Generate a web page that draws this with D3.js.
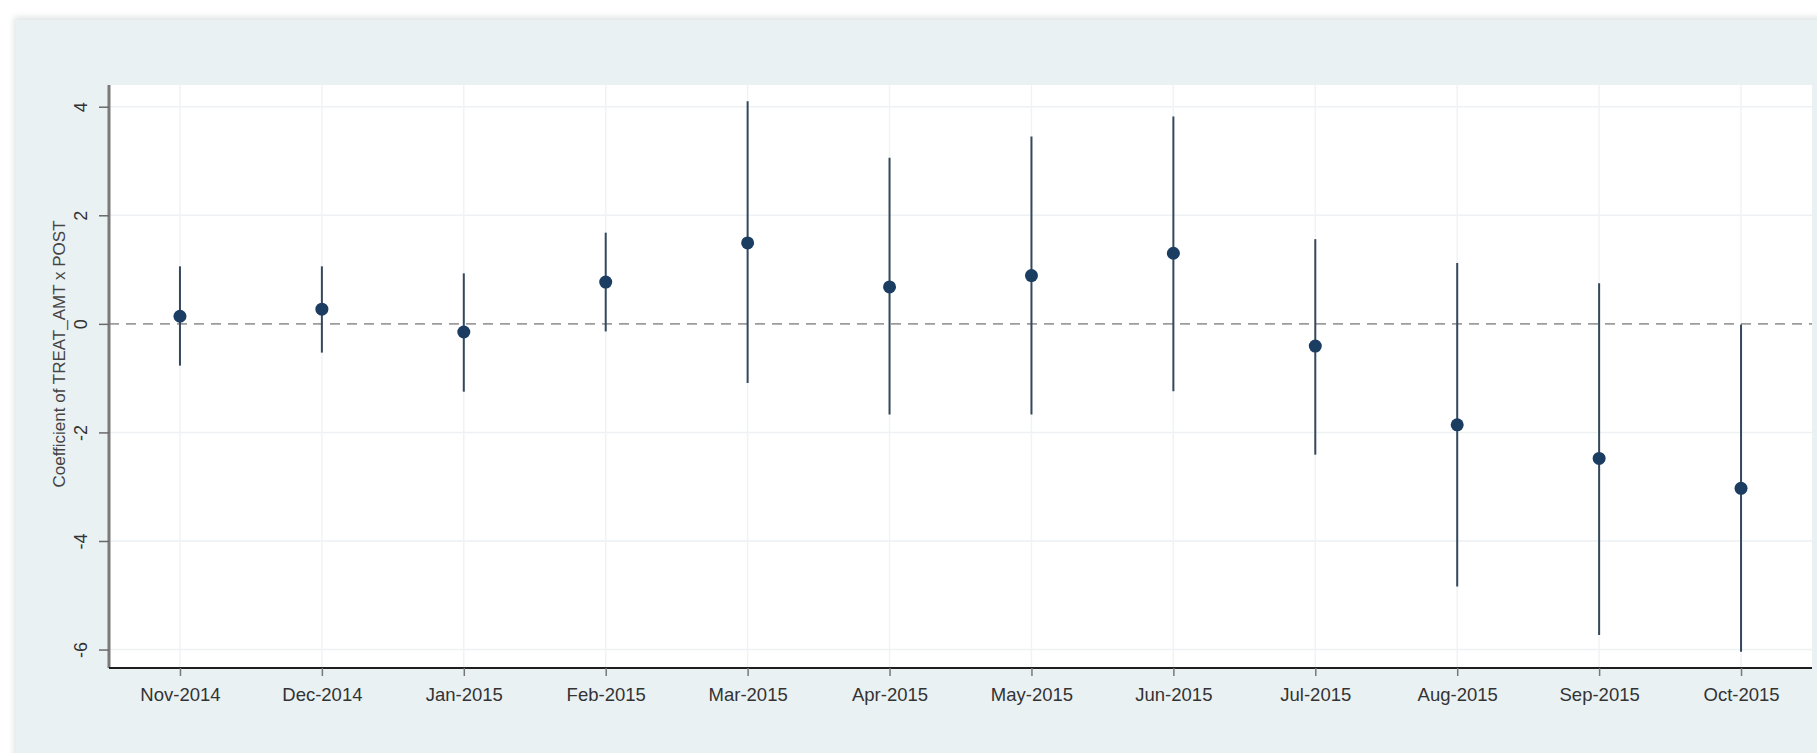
<!DOCTYPE html>
<html>
<head>
<meta charset="utf-8">
<script src="https://cdn.jsdelivr.net/npm/d3@7"></script>
<style>
  html, body { margin: 0; padding: 0; background: #ffffff; }
  svg { display: block; font-family: "Liberation Sans", Arial, sans-serif; }
</style>
</head>
<body>
<svg id="chart" width="1817" height="753"></svg>
<script>
// Monthly event-study coefficients with 95% confidence intervals
const months = ["Nov-2014", "Dec-2014", "Jan-2015", "Feb-2015", "Mar-2015", "Apr-2015",
                "May-2015", "Jun-2015", "Jul-2015", "Aug-2015", "Sep-2015", "Oct-2015"];
const coef   = [0.14, 0.27, -0.15, 0.77, 1.49, 0.68, 0.89, 1.30, -0.41, -1.86, -2.48, -3.03];
const ciLow  = [-0.77, -0.53, -1.25, -0.14, -1.09, -1.67, -1.67, -1.24, -2.41, -4.84, -5.73, -6.04];
const ciHigh = [1.06, 1.06, 0.93, 1.68, 4.10, 3.06, 3.45, 3.82, 1.56, 1.12, 0.75, -0.01];
const yTicks = [-6, -4, -2, 0, 2, 4];
const yTitle = "Coefficient of TREAT_AMT x POST";

const rows = months.map((m, i) => ({ month: m, b: coef[i], lo: ciLow[i], hi: ciHigh[i] }));

const svg = d3.select("#chart");
const W = 1817, H = 753;
const plot = { left: 109, right: 1812, top: 85, bottom: 668 };

// soft drop shadow for the graph region
const defs = svg.append("defs");
const f = defs.append("filter").attr("id", "soft").attr("x", "-5%").attr("y", "-5%")
  .attr("width", "110%").attr("height", "110%");
f.append("feGaussianBlur").attr("stdDeviation", 3);

// outer graph region
svg.append("rect").attr("x", 14).attr("y", 17).attr("width", W).attr("height", H)
  .attr("fill", "#dfe3e4").attr("filter", "url(#soft)");
svg.append("rect").attr("x", 16).attr("y", 20).attr("width", W - 16).attr("height", H - 20)
  .attr("fill", "#eaf1f3");

// plot region
svg.append("rect").attr("x", plot.left).attr("y", plot.top)
  .attr("width", plot.right - plot.left).attr("height", plot.bottom - plot.top)
  .attr("fill", "#ffffff");

const x = d3.scalePoint().domain(months).range([plot.left, plot.right]).padding(0.5);
const y = d3.scaleLinear().domain([-6.34, 4.40]).range([plot.bottom, plot.top]);

// grid lines
const grid = svg.append("g");
grid.selectAll("line.h").data(yTicks.filter(t => t !== 0)).join("line")
  .attr("x1", plot.left).attr("x2", plot.right)
  .attr("y1", d => y(d)).attr("y2", d => y(d))
  .attr("stroke", "#edf1f4").attr("stroke-width", 1.5);
grid.selectAll("line.v").data(months).join("line")
  .attr("x1", d => x(d)).attr("x2", d => x(d))
  .attr("y1", plot.top).attr("y2", plot.bottom)
  .attr("stroke", "#f0f3f5").attr("stroke-width", 1.5);

// zero reference line
svg.append("line")
  .attr("x1", plot.left).attr("x2", plot.right)
  .attr("y1", y(0)).attr("y2", y(0))
  .attr("stroke", "#9c9c9c").attr("stroke-width", 1.6)
  .attr("stroke-dasharray", "10,7");

// confidence interval spikes
svg.append("g").selectAll("line").data(rows).join("line")
  .attr("x1", d => x(d.month)).attr("x2", d => x(d.month))
  .attr("y1", d => y(d.lo)).attr("y2", d => y(d.hi))
  .attr("stroke", "#34475c").attr("stroke-width", 2);

// point estimates
svg.append("g").selectAll("circle").data(rows).join("circle")
  .attr("cx", d => x(d.month)).attr("cy", d => y(d.b)).attr("r", 6.5)
  .attr("fill", "#1b3d61");

// y axis
const yAxis = svg.append("g").attr("transform", `translate(${plot.left},0)`)
  .call(d3.axisLeft(y).tickValues(yTicks).tickSize(10).tickFormat(d3.format("d")));
yAxis.select(".domain").attr("d", `M0,${plot.top}V${plot.bottom}`)
  .attr("stroke", "#7a7a7a").attr("stroke-width", 3);
yAxis.selectAll(".tick line").attr("stroke", "#6a6a6a").attr("stroke-width", 1.5);
yAxis.selectAll(".tick text")
  .attr("x", 0).attr("y", -22).attr("dy", 0)
  .attr("transform", "rotate(-90)")
  .attr("text-anchor", "middle")
  .attr("fill", "#333").attr("font-size", 18)
  .text(d => d < 0 ? "-" + Math.abs(d) : d);

// x axis
const xAxis = svg.append("g").attr("transform", `translate(0,${plot.bottom})`)
  .call(d3.axisBottom(x).tickSize(8).tickPadding(12));
xAxis.select(".domain").attr("d", `M${plot.left},0H${plot.right}`)
  .attr("stroke", "#1e1e1e").attr("stroke-width", 2.2);
xAxis.selectAll(".tick line").attr("stroke", "#777").attr("stroke-width", 1.5);
xAxis.selectAll(".tick text").attr("fill", "#333").attr("font-size", 18.5);

// y axis title
svg.append("text")
  .attr("transform", `translate(65,354) rotate(-90)`)
  .attr("text-anchor", "middle")
  .attr("fill", "#444").attr("font-size", 17)
  .text(yTitle);
</script>
</body>
</html>
